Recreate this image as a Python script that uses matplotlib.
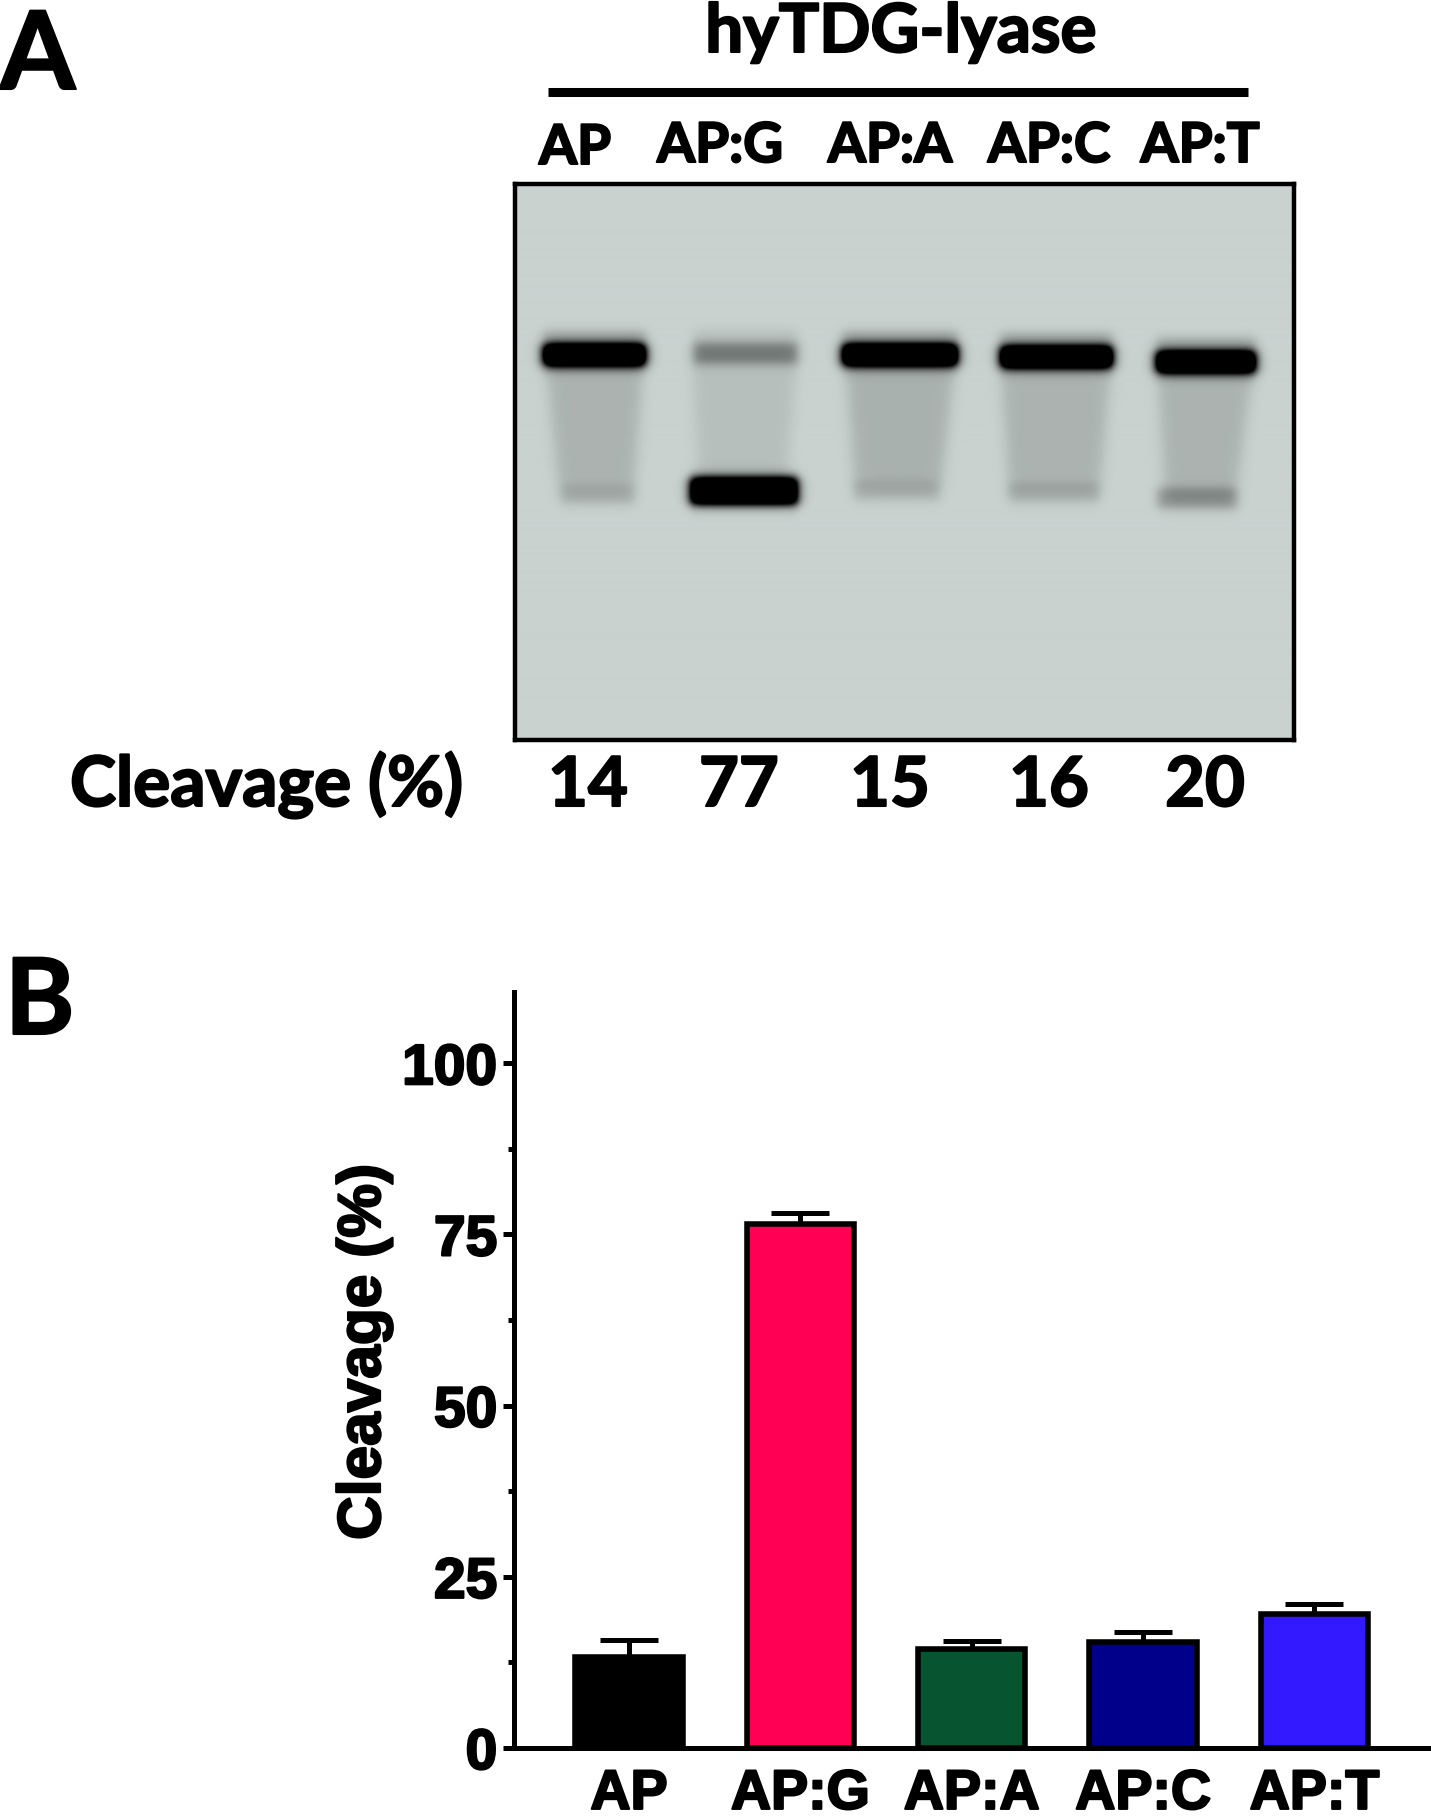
import numpy as np
import matplotlib
matplotlib.use("Agg")
import matplotlib.pyplot as plt
import matplotlib.patheffects as pe
from matplotlib.colors import LinearSegmentedColormap
from matplotlib.ticker import MultipleLocator

W, H = 1431, 1816

# bar chart values
categories = ["AP", "AP:G", "AP:A", "AP:C", "AP:T"]
cleavage = [13.3, 76.5, 14.5, 15.5, 19.5]
err_up = [2.5, 1.7, 1.1, 1.5, 1.5]
bar_colors = ["#000000", "#FF0055", "#065530", "#00008B", "#3319FF"]
yticks = [0, 25, 50, 75, 100]

# gel labels
gel_percent = ["14", "77", "15", "16", "20"]
gel_label_x = [575, 720, 890, 1049, 1200]
gel_percent_x = [588, 739, 890, 1049, 1205]

# gel lanes (pixels inside the gel frame)
upper_left = [28, 178, 327, 485, 641]
upper_right = [130, 282, 442, 597, 740]
upper_y = [171, 169, 171, 173, 178]
upper_dark = [1.9, 0.36, 1.9, 1.9, 1.9]
lower_left = [46, 175, 338, 493, 642]
lower_right = [119, 282, 424, 584, 721]
lower_y = [310, 307, 306, 308, 314]
lower_dark = [0.13, 1.9, 0.12, 0.14, 0.28]
lower_half = [9, 13, 9, 9, 10]
smear_top_left = [30, 176, 330, 485, 642]
smear_top_right = [128, 282, 440, 596, 738]
smear_bottom_left = [44, 184, 340, 494, 650]
smear_bottom_right = [118, 270, 425, 584, 720]
smear_dark = [0.15, 0.09, 0.16, 0.15, 0.15]


def soft_box(v, a, b, s):
    return 0.5 * (np.tanh((v - a) / s) - np.tanh((v - b) / s))


def make_gel(width, height):
    x = np.arange(width)[None, :]
    y = np.arange(height)[:, None]
    dark = np.zeros((height, width))
    for i in range(len(upper_y)):
        dark += upper_dark[i] * soft_box(x, upper_left[i], upper_right[i], 6) * soft_box(y, upper_y[i] - 10, upper_y[i] + 10, 6)
        dark += 0.2 * min(upper_dark[i], 1) * soft_box(x, upper_left[i], upper_right[i], 7) * soft_box(y, upper_y[i] - 24, upper_y[i] + 16, 6)
        dark += lower_dark[i] * soft_box(x, lower_left[i], lower_right[i], 6) * soft_box(y, lower_y[i] - lower_half[i], lower_y[i] + lower_half[i], 6)
        # smear narrows on its way down the lane
        t = np.clip((y - upper_y[i]) / (lower_y[i] - upper_y[i]), 0, 1)
        left = smear_top_left[i] + t * (smear_bottom_left[i] - smear_top_left[i])
        right = smear_top_right[i] + t * (smear_bottom_right[i] - smear_top_right[i])
        dark += smear_dark[i] * soft_box(x, left, right, 8) * soft_box(y, upper_y[i] + 8, lower_y[i] + 2, 12)
    return np.clip(dark, 0, 1)


def add_axes_px(fig, left, top, right, bottom):
    return fig.add_axes([left / W, 1 - bottom / H, (right - left) / W, (bottom - top) / H])


def put_text(fig, x, y, s, size, ha="center", font="Lato"):
    t = fig.text(x / W, 1 - y / H, s, fontsize=size, fontweight="bold", family=font,
                 ha=ha, va="baseline", color="black")
    t.set_path_effects([pe.withStroke(linewidth=1.5, foreground="black")])


fig = plt.figure(figsize=(W / 100, H / 100), dpi=100, facecolor="white")

# panel A
gel_ax = add_axes_px(fig, 515, 184, 1294, 740)
gel_cmap = LinearSegmentedColormap.from_list("gel", ["#C9D2CF", "#000000"])
gel_ax.imshow(make_gel(779, 556), cmap=gel_cmap, vmin=0, vmax=1, aspect="auto", interpolation="bilinear")
gel_ax.set_xticks([])
gel_ax.set_yticks([])
for sp in gel_ax.spines.values():
    sp.set_linewidth(3.2)

put_text(fig, 0, 89, "A", 78, ha="left")
put_text(fig, 901, 52, "hyTDG-lyase", 48.5)
fig.add_artist(plt.Line2D([548 / W, 1248 / W], [1 - 92 / H, 1 - 92 / H], color="black", lw=6.5, solid_capstyle="butt"))
for i, lab in enumerate(categories):
    put_text(fig, gel_label_x[i], 164 if i == 0 else 162, lab, 39.5)
    put_text(fig, gel_percent_x[i], 806, gel_percent[i], 49.5)
put_text(fig, 70, 806, "Cleavage (%)", 50, ha="left")

# panel B
put_text(fig, 5, 1034, "B", 76, ha="left")
ax = add_axes_px(fig, 514, 992, W, 1748)
x = np.arange(len(categories))
ax.bar(x, cleavage, width=0.627, color=bar_colors, edgecolor="black", linewidth=4, zorder=3)
ax.errorbar(x, cleavage, yerr=[np.zeros(len(x)), err_up], fmt="none", ecolor="black",
            elinewidth=3.6, capsize=21, capthick=3.6, zorder=2)
ax.set_xlim(-0.671, 4.68)
ax.set_ylim(0, 110.4)
ax.spines["top"].set_visible(False)
ax.spines["right"].set_visible(False)
ax.spines["left"].set_linewidth(3.6)
ax.spines["bottom"].set_linewidth(3.6)

stroke = [pe.withStroke(linewidth=1.6, foreground="black")]
ax.set_xticks(x)
ax.set_xticklabels(categories, fontsize=40, fontweight="bold", family="Liberation Sans", path_effects=stroke)
ax.tick_params(axis="x", length=0, pad=15)
ax.set_yticks(yticks)
ax.set_yticklabels([str(v) for v in yticks], fontsize=41, fontweight="bold", family="Liberation Sans", path_effects=stroke)
ax.yaxis.set_minor_locator(MultipleLocator(12.5))
ax.tick_params(axis="y", which="major", length=8, width=3.6, pad=4)
ax.tick_params(axis="y", which="minor", length=4.5, width=3.6)
ax.set_ylabel("Cleavage (%)", fontsize=43.5, fontweight="bold", family="Liberation Sans", path_effects=stroke)
ax.yaxis.set_label_coords((392 - 514) / (W - 514), (1748 - 1352) / (1748 - 992))

fig.savefig("out.png", dpi=100)
